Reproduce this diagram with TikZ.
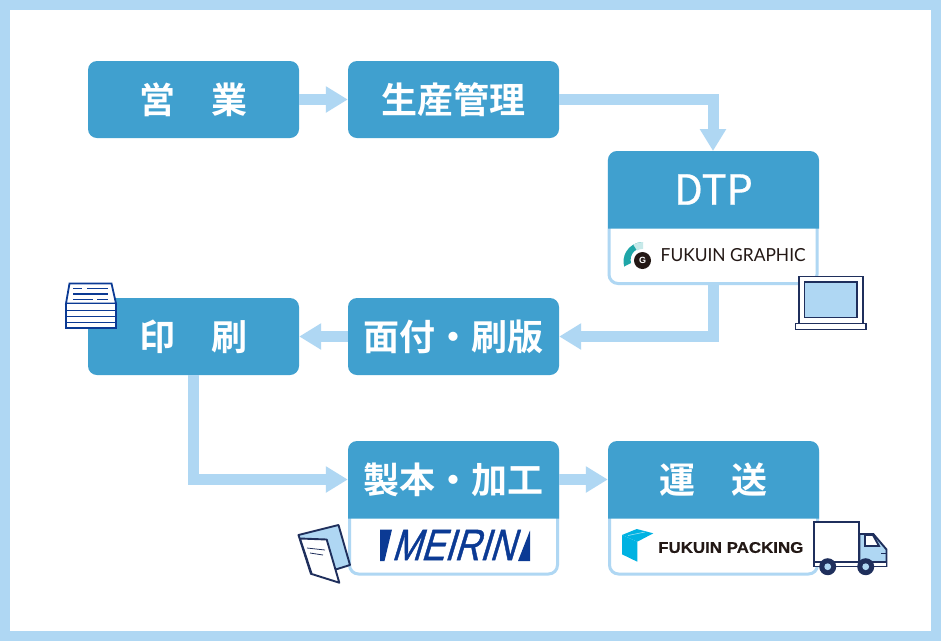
\documentclass[tikz,border=0pt]{standalone}
\usepackage{fontspec}
\usepackage{graphicx}
\usetikzlibrary{arrows.meta}
\newfontfamily\cjkf[BoldFont={Noto Sans CJK JP Bold}]{Noto Sans CJK JP}
\newfontfamily\dtpf[FakeBold=0.7]{Noto Sans CJK JP}
\newfontfamily\latoF{Lato}
\newfontfamily\libF{Liberation Sans}
\newfontfamily\packF[FakeBold=0.5]{Liberation Sans Bold}
\newfontfamily\meiF[FakeSlant=0.38,FakeBold=1.1]{Liberation Sans}
\definecolor{boxc}{HTML}{40A0CF}
\definecolor{lite}{HTML}{AFD7F3}
\definecolor{navy}{HTML}{1F2F5C}
\definecolor{royal}{HTML}{0B3A94}
\definecolor{cube}{HTML}{00B2E2}
\definecolor{teal1}{HTML}{1FA6A8}
\definecolor{logok}{HTML}{231815}
\tikzset{
  x=1pt,y=-1pt,
  box/.style={fill=boxc,rounded corners=9pt,minimum width=211pt,minimum height=77pt,inner sep=0pt,text=white,font=\cjkf\bfseries\fontsize{36}{36}\selectfont},
  hdr/.style={minimum width=211pt,minimum height=77pt,inner sep=0pt,text=white,font=\cjkf\bfseries\fontsize{36}{36}\selectfont},
  card/.style={draw=lite,fill=white,line width=3pt,rounded corners=9pt,minimum width=208pt,minimum height=131pt,inner sep=0pt},
  conn/.style={draw=lite,line width=11pt,-{Triangle[length=22pt,width=25pt,fill=lite]},line join=miter},
  nv/.style={draw=navy,line width=1.9pt,line join=miter},
  rl/.style={draw=royal,line width=1.8pt},
}
\begin{document}
\begin{tikzpicture}
\useasboundingbox (0,0) rectangle (941,641);
\fill[white] (0,0) rectangle (941,641);
\path[draw=lite,line width=10.5pt] (5.2,5.2) rectangle (935.8,635.8);

% cards
\node[card] (dtp) at (713,218) {};
\node[card] (seihoncard) at (453.5,508.5) {};
\node[card] (unsocard) at (713.5,508.5) {};
\fill[boxc] (608,228.5) [rounded corners=9pt] -- (608,151) -- (819,151) [sharp corners] -- (819,228.5) -- cycle;
\fill[boxc] (348,518.5) [rounded corners=9pt] -- (348,441) -- (559,441) [sharp corners] -- (559,518.5) -- cycle;
\fill[boxc] (608,518.5) [rounded corners=9pt] -- (608,441) -- (819,441) [sharp corners] -- (819,518.5) -- cycle;

% boxes
\node[box] (eigyo) at (193.5,99.5) {営　業};
\node[box] (seisan) at (453.5,99.5) {生産管理};
\node[box] (insatsu) at (193.5,336.5) {印　刷};
\node[box] (men) at (453.5,336.5) {面付・刷版};
\node[hdr,font=\dtpf\fontsize{41.5}{41.5}\selectfont] (dtph) at (713.5,189.5) {DTP};
\node[hdr] (seihon) at (453.5,479.5) {製本・加工};
\node[hdr] (unso) at (713.5,479.5) {運　送};

% connectors
\draw[conn] (eigyo.east) -- (seisan.west);
\draw[conn] (seisan.east) -| (dtp.north);
\draw[conn] (dtp.south) |- (men.east);
\draw[conn] (men.west) -- (insatsu.east);
\draw[conn] (insatsu.south) |- (seihon.west);
\draw[conn] (seihon.east) -- (unso.west);

% Fukuin Graphic logo
\fill[teal1] (643,242) arc (-90:-195:19.5) -- (631,263) arc (-195:-90:12) -- cycle;
\fill[white!75!teal1] (643,242) arc (-90:-120:19.5) -- (637,250.5) arc (-120:-90:12) -- cycle;
\fill[logok] (642.5,260.5) circle (8.5);
\node[inner sep=0pt,text=white,font=\libF\bfseries\fontsize{9}{9}\selectfont] (glogo) at (642.5,260.5) {G};
\node[anchor=west,inner sep=0pt,text=logok,font=\latoF\fontsize{18}{18}\selectfont] (fg) at (660.5,255) {\scalebox{0.965}[1]{FUKUIN GRAPHIC}};

% Meirin logo
\fill[royal] (380,529.5) -- (392,529.5) -- (384.5,561) -- (380,561) -- cycle;
\fill[royal] (530,530.5) -- (530,561) -- (518,561) -- cycle;
\node[inner sep=0pt,text=royal,font=\meiF\fontsize{44}{44}\selectfont] (mei) at (453,545) {\scalebox{0.8}[1]{MEIRIN}};

% Fukuin Packing logo
\fill[cube] (622,535) -- (637.3,541.7) -- (637.3,561.7) -- (622,554.3) -- cycle;
\fill[cube] (622,535) -- (636.7,529) -- (653.3,533.3) -- (637.3,541.7) -- cycle;
\draw[white!60!cube,line width=.6pt] (628,535.5) -- (645,532);
\node[anchor=west,inner sep=0pt,text=logok,font=\packF\fontsize{15.5}{15.5}\selectfont] (fp) at (658,547.5) {\scalebox{1.09}[1]{FUKUIN PACKING}};

% laptop
\path[nv,fill=white] (799,276.5) rectangle (863,323.5);
\path[nv,fill=lite] (804.5,282) rectangle (857,317.5);
\path[nv,fill=white] (795.5,323.5) rectangle (866,329.5);

% paper stack
\path[rl,fill=white] (69.5,283.5) -- (111.5,283.5) -- (116,303.5) -- (66,303.5) -- cycle;
\path[rl,fill=white] (66,303.5) rectangle (116,328);
\foreach \yy in {310.5,316.5,322.5} \draw[rl] (66,\yy) -- (116,\yy);
\draw[rl] (73,288.5) -- (82,288.5) (87,288.5) -- (108,288.5);
\draw[rl] (73,294) -- (108,294);
\draw[rl] (73,299.5) -- (93,299.5) (97,299.5) -- (108,299.5);

% folder
\path[nv,fill=lite,line join=round] (298.5,535) -- (338.5,525) -- (350,565) -- (334,570) -- (311,574) -- cycle;
\path[nv,fill=white,line join=round] (300,538.5) -- (326.7,539.5) -- (339.3,582.7) -- (311.7,574) -- cycle;
\draw[navy,line width=.8pt] (307,548) -- (325,550) (310,553) -- (323,555);

% truck
\path[nv,fill=lite] (859.3,534) -- (873.3,534) -- (886.5,549.5) -- (886.5,566) -- (859.3,566) -- cycle;
\path[nv,fill=white] (865,535) -- (873,535) -- (879,546) -- (865,546) -- cycle;
\path[nv,fill=white] (814.3,522.3) rectangle (859.3,561.7);
\path[nv,fill=white] (814.3,561.7) rectangle (886.5,566.5);
\draw[navy,line width=1.6pt] (881,553.5) -- (886.5,553.5);
\foreach \cx in {827.7,865.7} {
  \fill[navy] (\cx,566.7) circle (8.5);
  \fill[lite] (\cx,566.7) circle (3.4);
}
\end{tikzpicture}
\end{document}
